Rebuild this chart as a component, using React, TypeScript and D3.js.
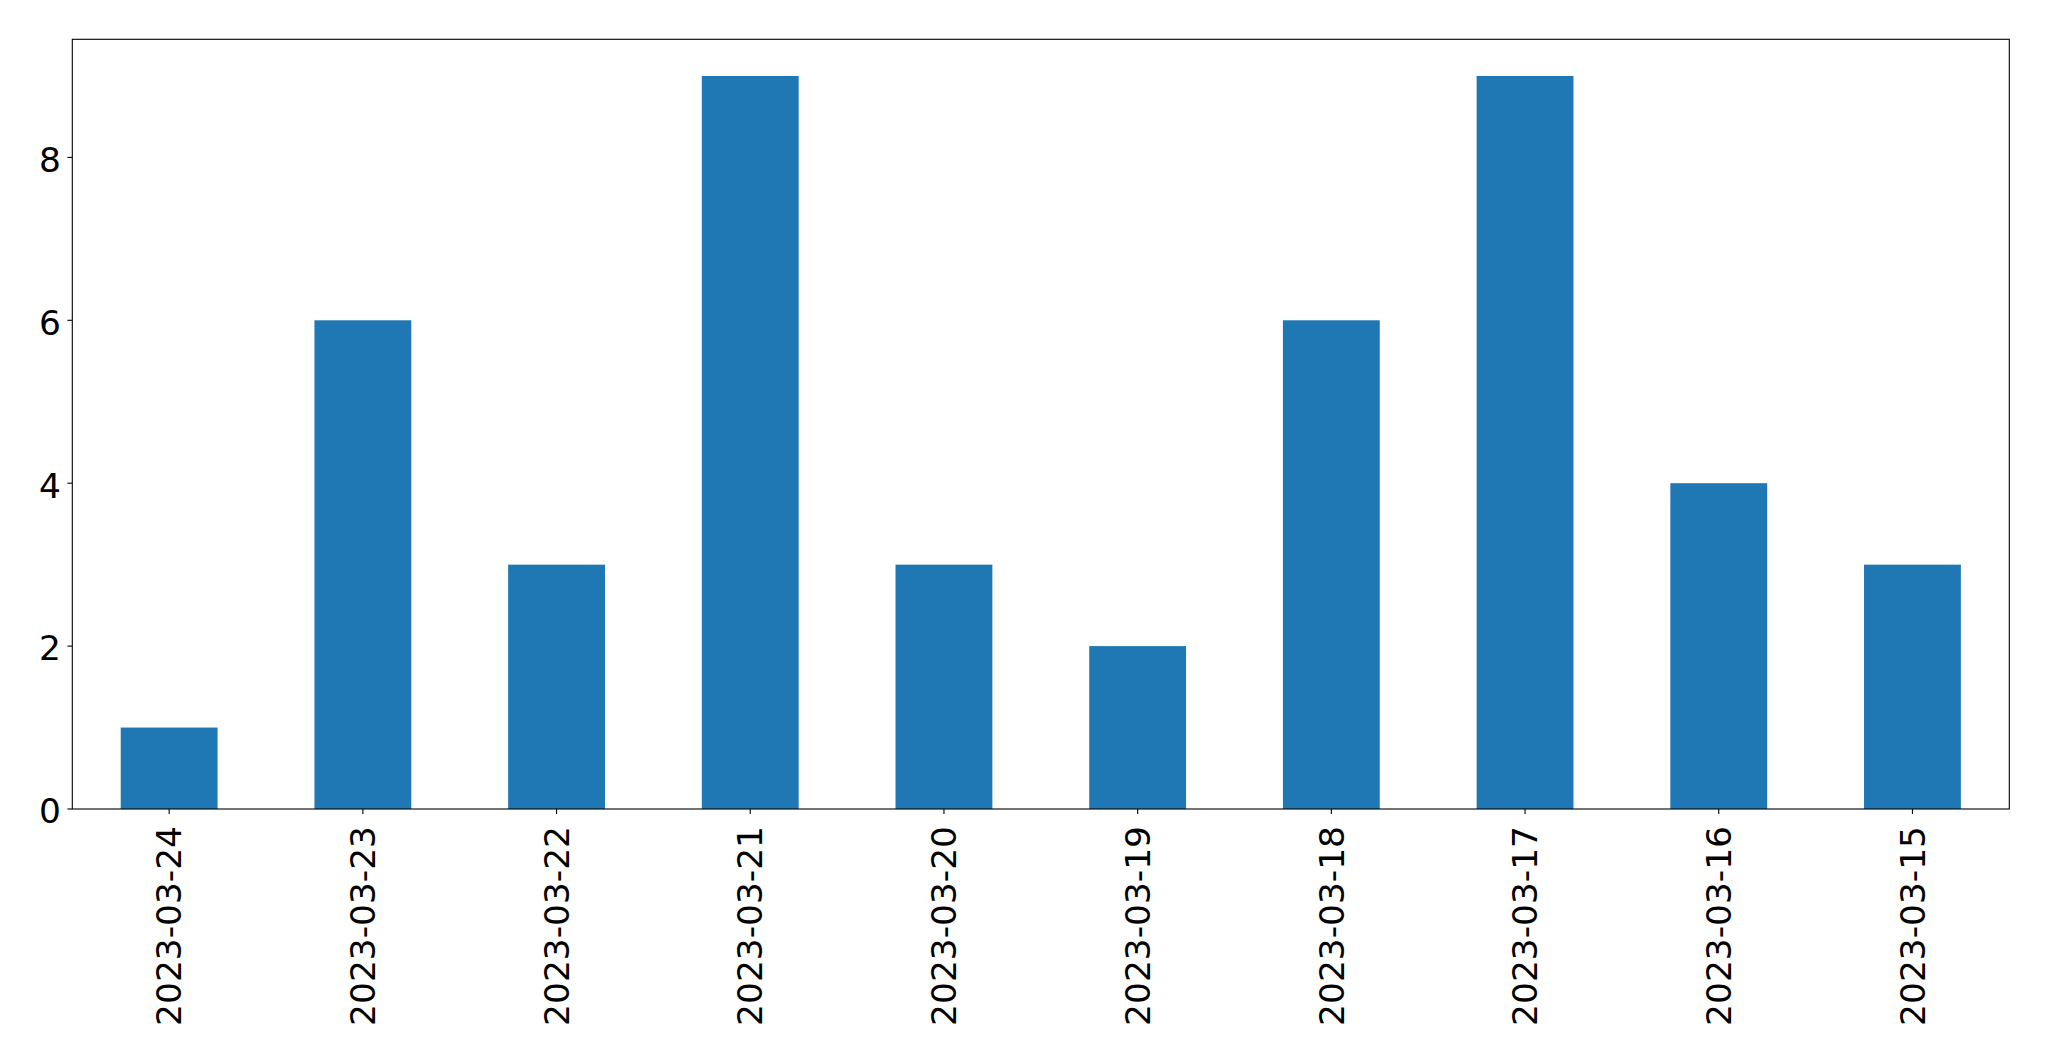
import React from "react";
import * as d3 from "d3";

const categories = [
  "2023-03-24", "2023-03-23", "2023-03-22", "2023-03-21", "2023-03-20",
  "2023-03-19", "2023-03-18", "2023-03-17", "2023-03-16", "2023-03-15",
];
const values = [1, 6, 3, 9, 3, 2, 6, 9, 4, 3];
const yTicks = [0, 2, 4, 6, 8];

const W = 2049;
const H = 1061;
const left = 72.3;
const right = 2009.3;
const top = 39.3;
const bottom = 809;
const FONT = "'DejaVu Sans', sans-serif";
const FS = 34.4;

export default function App() {
  const ymax = d3.max(values)! * 1.05;
  const y = d3.scaleLinear().domain([0, ymax]).range([bottom, top]);
  const x = d3
    .scaleBand<string>()
    .domain(categories)
    .range([left, right])
    .paddingInner(0.5)
    .paddingOuter(0.25);
  const bw = x.bandwidth();

  return (
    <svg
      width={W}
      height={H}
      style={{ position: "absolute", left: 0, top: 0, background: "#fff" }}
    >
      <rect x={0} y={0} width={W} height={H} fill="#fff" />
      {categories.map((c, i) => (
        <rect
          key={c}
          x={x(c)!}
          y={y(values[i])}
          width={bw}
          height={y(0) - y(values[i])}
          fill="#1f77b4"
        />
      ))}
      <rect
        x={left}
        y={top}
        width={right - left}
        height={bottom - top}
        fill="none"
        stroke="#000"
        strokeWidth={1.1}
      />
      {yTicks.map((t) => (
        <g key={t}>
          <line x1={left - 4.9} x2={left} y1={y(t)} y2={y(t)} stroke="#000" strokeWidth={1.1} />
          <text
            x={left - 11.3}
            y={y(t) + 14.3}
            textAnchor="end"
            fontFamily={FONT}
            fontSize={FS}
            fill="#000"
          >
            {t}
          </text>
        </g>
      ))}
      {categories.map((c) => {
        const cx = x(c)! + bw / 2;
        return (
          <g key={c}>
            <line x1={cx} x2={cx} y1={bottom} y2={bottom + 4.9} stroke="#000" strokeWidth={1.1} />
            <text
              transform={`translate(${cx + 12.2},${826}) rotate(-90)`}
              textAnchor="end"
              fontFamily={FONT}
              fontSize={FS}
              fill="#000"
            >
              {c}
            </text>
          </g>
        );
      })}
    </svg>
  );
}
